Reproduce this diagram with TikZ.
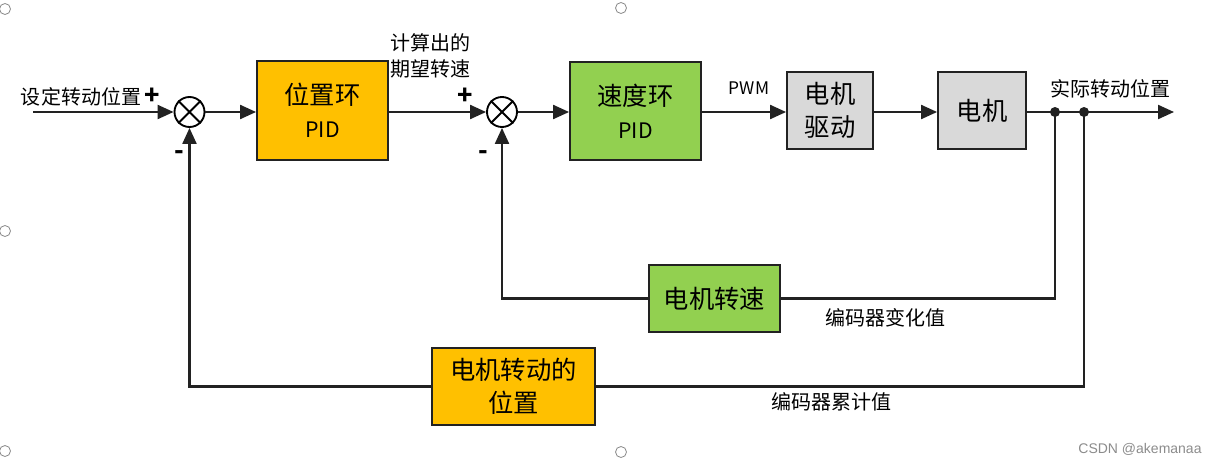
\documentclass[tikz,border=0pt]{standalone}
\usepackage{fontspec}
\setmainfont{Noto Sans CJK SC}
\newfontfamily\wmfont{Liberation Sans}
\usetikzlibrary{arrows.meta}
\definecolor{posorange}{HTML}{FFC000}
\definecolor{spdgreen}{HTML}{92D050}
\definecolor{drvgrey}{HTML}{D9D9D9}
\definecolor{linegrey}{HTML}{222222}
\definecolor{handle}{HTML}{8A8A8A}
\newcommand\bigsz{\fontsize{19}{25}\selectfont}
\newcommand\pidsz{\fontsize{16}{20}\selectfont}
\begin{document}
\begin{tikzpicture}[x=0.75pt,y=-0.75pt,
  blk/.style={draw=linegrey, line width=1.4pt, inner sep=0pt, align=center},
  sumnode/.style={circle, draw=black, line width=1.4pt, minimum size=22.5pt, inner sep=0pt},
  conn/.style={draw=linegrey, line width=1.6pt},
  arr/.style={conn, -{Triangle[length=12pt,width=10.5pt]}},
  lbl/.style={inner sep=0pt, font=\fontsize{15}{20}\selectfont, align=center},
  sign/.style={inner sep=0pt, font=\fontsize{19}{20}\selectfont\bfseries},
  bigtxt/.style={font=\bigsz},
  handlecirc/.style={draw=handle, line width=0.6pt}
]
\useasboundingbox (0,0) rectangle (1212,464);
\fill[white] (0,0) rectangle (1212,464);

% screenshot handles
\draw[handlecirc] (5,9) circle (5.5);
\draw[handlecirc] (621,8) circle (5.5);
\draw[handlecirc] (5,231) circle (5.5);
\draw[handlecirc] (5,451) circle (5.5);
\draw[handlecirc] (621,452) circle (5.5);

% blocks
\node[sumnode] (s1) at (189.5,112) {};
\node[sumnode] (s2) at (502,112) {};
\draw[line width=1.4pt] (s1.north west) -- (s1.south east) (s1.north east) -- (s1.south west);
\draw[line width=1.4pt] (s2.north west) -- (s2.south east) (s2.north east) -- (s2.south west);

\node[blk, fill=posorange, minimum width=131*0.75pt, minimum height=99*0.75pt, bigtxt] (pos) at (322.5,110.5)
  {位置环\\{\pidsz PID}};
\node[blk, fill=spdgreen, minimum width=131*0.75pt, minimum height=98*0.75pt, bigtxt] (spd) at (635.5,111)
  {速度环\\{\pidsz PID}};
\node[blk, fill=drvgrey, minimum width=86*0.75pt, minimum height=77*0.75pt, bigtxt] (drv) at (830,110.5)
  {电机\\驱动};
\node[blk, fill=drvgrey, minimum width=88*0.75pt, minimum height=77*0.75pt, bigtxt] (mot) at (982,110.5)
  {电机};
\node[blk, fill=spdgreen, minimum width=131*0.75pt, minimum height=67*0.75pt, bigtxt] (fb1) at (714.5,298.5)
  {电机转速};
\node[blk, fill=posorange, minimum width=163*0.75pt, minimum height=77*0.75pt, bigtxt] (fb2) at (513.5,386.5)
  {电机转动的\\位置};

% coordinates
\coordinate (in) at (33,112);
\coordinate (out) at (1174,112);
\coordinate (j1) at (1055,112);
\coordinate (j2) at (1084,112);

% forward path
\draw[arr] (in) -- (s1.west);
\draw[arr] (s1.east) -- (s1.east -| pos.west);
\draw[arr] (s1 -| pos.east) -- (s2.west);
\draw[arr] (s2.east) -- (s2.east -| spd.west);
\draw[arr] (s2 -| spd.east) -- (s2 -| drv.west);
\draw[arr] (s2 -| drv.east) -- (s2 -| mot.west);
\draw[arr] (s2 -| mot.east) -- (out);
\fill[linegrey] (j1) circle (5);
\fill[linegrey] (j2) circle (5);

% feedback
\draw[conn] (j1) |- (fb1.east);
\draw[arr] (fb1.west) -| (s2.south);
\draw[conn] (j2) |- (fb2.east);
\draw[arr] (fb2.west) -| (s1.south);

% labels
\node[lbl] (lin) at (81,97) {设定转动位置};
\node[sign] (p1) at (152,96) {+};
\node[sign] (m1) at (179.5,155) {-};
\node[lbl] (lcalc) at (430,56) {计算出的\\期望转速};
\node[sign] (p2) at (465,96) {+};
\node[sign] (m2) at (483,155) {-};
\node[lbl, font=\fontsize{13}{16}\selectfont] (pwm) at (749,88) {PWM};
\node[lbl] (lact) at (1110,89) {实际转动位置};
\node[lbl] (lenc1) at (885,318) {编码器变化值};
\node[lbl] (lenc2) at (831,402) {编码器累计值};
\node[inner sep=0pt, text=black!45, font=\wmfont\fontsize{10.5}{12}\selectfont] (wm) at (1140,449) {CSDN @akemanaa};
\end{tikzpicture}
\end{document}
